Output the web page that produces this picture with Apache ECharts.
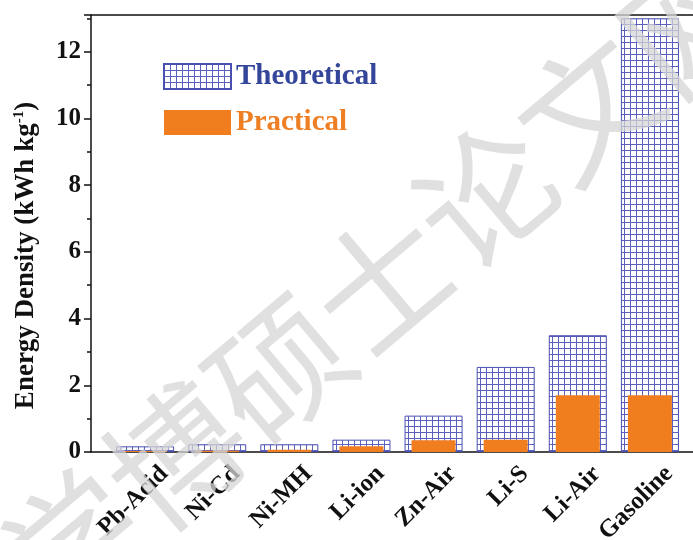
<!DOCTYPE html>
<html>
<head>
<meta charset="utf-8">
<script src="https://cdn.jsdelivr.net/npm/echarts@6/dist/echarts.min.js"></script>
<style>
html,body{margin:0;padding:0;background:#fff;}
#chart{width:693px;height:540px;}
</style>
</head>
<body>
<div id="chart"></div>
<script>
// ---- data ----
var categories = ['Pb-Acid', 'Ni-Cd', 'Ni-MH', 'Li-ion', 'Zn-Air', 'Li-S', 'Li-Air', 'Gasoline'];
var theoretical = [0.17, 0.23, 0.23, 0.37, 1.09, 2.55, 3.5, 13.0];
var practical = [0.03, 0.04, 0.07, 0.17, 0.35, 0.37, 1.7, 1.7];
var seriesNames = ['Theoretical', 'Practical'];
var yTicks = [0, 2, 4, 6, 8, 10, 12];

// grid pattern for theoretical bars
function makePattern() {
  var c = document.createElement('canvas');
  c.width = 6; c.height = 6;
  var ctx = c.getContext('2d');
  ctx.fillStyle = '#ffffff';
  ctx.fillRect(0, 0, 6, 6);
  ctx.fillStyle = '#5a60bc';
  ctx.fillRect(0, 0, 6, 1);
  ctx.fillRect(0, 0, 1, 6);
  return c;
}
var pattern = { image: makePattern(), repeat: 'repeat' };

var FONT = '"Liberation Serif", "Times New Roman", serif';
var chart = echarts.init(document.getElementById('chart'), null, { renderer: 'canvas' });

function pairs(arr) {
  return arr.map(function (v, i) { return [i + 1, v]; });
}

var xBase = {
  type: 'value',
  min: 0.25,
  max: 8.75,
  interval: 0.25,
  splitLine: { show: false },
  axisTick: { show: false }
};

var option = {
  animation: false,
  backgroundColor: '#ffffff',
  grid: { left: 91, right: -11, top: 15, bottom: 88, containLabel: false, outerBoundsMode: 'none' },
  legend: {
    orient: 'vertical',
    left: 158,
    top: 57,
    itemWidth: 67,
    itemHeight: 25,
    itemGap: 17,
    icon: 'rect',
    selectedMode: false,
    textStyle: { fontFamily: FONT, fontWeight: 'bold', fontSize: 29 },
    data: [
      { name: seriesNames[0], textStyle: { color: '#34469a' } },
      { name: seriesNames[1], textStyle: { color: '#ee7f24' } }
    ]
  },
  xAxis: [
    Object.assign({}, xBase, {
      position: 'bottom',
      axisLine: { show: true, lineStyle: { color: '#111', width: 1.5 } },
      axisLabel: {
        show: true,
        rotate: 45,
        margin: -1,
        verticalAlign: 'top',
        lineHeight: 54,
        fontFamily: FONT,
        fontWeight: 'bold',
        fontSize: 25,
        color: '#111',
        formatter: function (v) {
          var r = Math.round(v);
          if (Math.abs(v - r) < 1e-6 && r >= 1 && r <= categories.length) return categories[r - 1];
          return '';
        }
      }
    }),
    Object.assign({}, xBase, {
      position: 'top',
      axisLine: { show: true, lineStyle: { color: '#111', width: 1.5 } },
      axisLabel: { show: false }
    })
  ],
  yAxis: {
    type: 'value',
    min: 0,
    max: 13.1,
    interval: 2,
    name: 'Energy Density (kWh kg{sup|-1})',
    nameLocation: 'middle',
    nameRotate: 90,
    nameGap: 50,
    nameTextStyle: {
      fontFamily: FONT, fontWeight: 'bold', fontSize: 27, color: '#111',
      padding: [0, 44, 0, 0],
      rich: {
        sup: { fontFamily: FONT, fontWeight: 'bold', fontSize: 15, color: '#111', verticalAlign: 'top', padding: [0, 0, 14, 0] }
      }
    },
    splitLine: { show: false },
    axisLine: { show: true, lineStyle: { color: '#111', width: 1.5 } },
    axisTick: { show: true, inside: false, length: 7, lineStyle: { color: '#111', width: 1.5 } },
    minorTick: { show: true, splitNumber: 2, length: 4, lineStyle: { color: '#111', width: 1.5 } },
    axisLabel: {
      margin: 10,
      showMaxLabel: false,
      fontFamily: FONT, fontWeight: 'bold', fontSize: 25, color: '#111',
      formatter: function (v) { return yTicks.indexOf(v) >= 0 ? String(v) : ''; }
    }
  },
  series: [
    {
      name: seriesNames[0],
      type: 'bar',
      xAxisIndex: 0,
      barWidth: 58,
      data: pairs(theoretical),
      itemStyle: { color: pattern, borderColor: '#4a50b0', borderWidth: 1 }
    },
    {
      name: seriesNames[1],
      type: 'bar',
      xAxisIndex: 1,
      barWidth: 44,
      data: pairs(practical),
      itemStyle: { color: '#f07d1e' }
    }
  ],
  graphic: [
    {
      type: 'text',
      x: 382,
      y: 282,
      rotation: 0.70,
      z: 100,
      silent: true,
      style: {
        text: '学博硕士论文网',
        font: '400 135px "Noto Sans CJK SC"',
        fill: 'rgba(214,214,214,0.75)',
        align: 'center',
        verticalAlign: 'middle'
      }
    }
  ]
};
chart.setOption(option);
</script>
</body>
</html>
